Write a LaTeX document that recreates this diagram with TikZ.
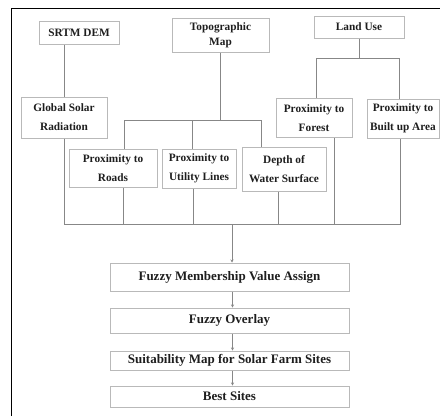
\documentclass[tikz,border=0pt]{standalone}
\usepackage{fontspec}
\setmainfont{Liberation Serif}
\usetikzlibrary{arrows.meta}
\definecolor{boxgray}{RGB}{185,185,185}
\definecolor{linegray}{RGB}{135,135,135}
\definecolor{textgray}{RGB}{30,30,30}

\begin{document}
\begin{tikzpicture}[x=1pt,y=-1pt,
		databox/.style={draw=boxgray,line width=1pt,inner sep=0pt,align=center,text=textgray,
			font=\fontsize{11.3}{19}\selectfont\bfseries},
		stepbox/.style={draw=boxgray,line width=1pt,inner sep=0pt,minimum width=239pt,text=textgray,
			font=\fontsize{13}{15}\selectfont\bfseries},
		link/.style={draw=linegray,line width=1pt},
		flow/.style={link,-{Stealth[length=3pt,width=3pt]}}]
			\useasboundingbox (0,0) rectangle (440,416);
			\draw[line width=1.5pt] (11.5,416) -- (11.5,8.5) -- (440,8.5);

			\node[databox,minimum width=80pt,minimum height=23pt] (srtm) at (79,32.5) {SRTM DEM};
			\node[databox,minimum width=97pt,minimum height=34pt,font=\fontsize{11.3}{15}\selectfont\bfseries] (topo) at (220.5,35) {Topographic\\Map};
			\node[databox,minimum width=90pt,minimum height=22pt] (landuse) at (359,27) {Land Use};

			\node[databox,minimum width=86pt,minimum height=41pt] (solar) at (64,117.5) {Global Solar\\Radiation};
			\node[databox,minimum width=76pt,minimum height=39pt] (forest) at (314,118) {Proximity to\\Forest};
			\node[databox,minimum width=72pt,minimum height=39pt] (builtup) at (403,118.5) {Proximity to\\Built up Area};

			\node[databox,minimum width=88pt,minimum height=38pt] (roads) at (113,168) {Proximity to\\Roads};
			\node[databox,minimum width=74pt,minimum height=39pt] (utility) at (199,168.5) {Proximity to\\Utility Lines};
			\node[databox,minimum width=84pt,minimum height=44pt] (depth) at (284,169) {Depth of\\Water Surface};

			\node[stepbox,minimum height=28pt] (member) at (229.5,277) {Fuzzy Membership Value Assign};
			\node[stepbox,minimum height=25pt] (overlay) at (229.5,320.5) {Fuzzy Overlay};
			\node[stepbox,minimum height=19pt] (suit) at (229.5,360.5) {Suitability Map for Solar Farm Sites};
			\node[stepbox,minimum height=21pt] (best) at (229.5,396.5) {Best Sites};

			\coordinate (topobus) at (0,120);
			\coordinate (landbus) at (0,58);
			\coordinate (bus) at (232,224.5);

			\draw[link] (solar.north) -- (solar.north |- srtm.south);

			\draw[link] (topo.south) -- (topo.south |- topobus);
			\draw[link] ([xshift=11]roads.north) |- ([xshift=-23]depth.north |- topobus) -- ([xshift=-23]depth.north);
			\draw[link] ([xshift=-7]utility.north) -- ([xshift=-7]utility.north |- topobus);

			\draw[link] (landuse.south) -- (landuse.south |- landbus);
			\draw[link] ([xshift=2]forest.north) |- ([xshift=-4]builtup.north |- landbus) -- ([xshift=-4]builtup.north);

			\draw[link] (solar.south) |- ([xshift=-3]builtup.south |- bus) -- ([xshift=-3]builtup.south);
			\draw[link] ([xshift=10]roads.south) -- ([xshift=10]roads.south |- bus);
			\draw[link] ([xshift=-6]utility.south) -- ([xshift=-6]utility.south |- bus);
			\draw[link] ([xshift=-6]depth.south) -- ([xshift=-6]depth.south |- bus);
			\draw[link] ([xshift=20]forest.south) -- ([xshift=20]forest.south |- bus);
			\draw[flow] (bus) -- (bus |- member.north);

			\draw[flow] ([xshift=3]member.south) -- ([xshift=3]overlay.north);
			\draw[flow] ([xshift=3]overlay.south) -- ([xshift=3]suit.north);
			\draw[flow] ([xshift=3]suit.south) -- ([xshift=3]best.north);
		\end{tikzpicture}
\end{document}
